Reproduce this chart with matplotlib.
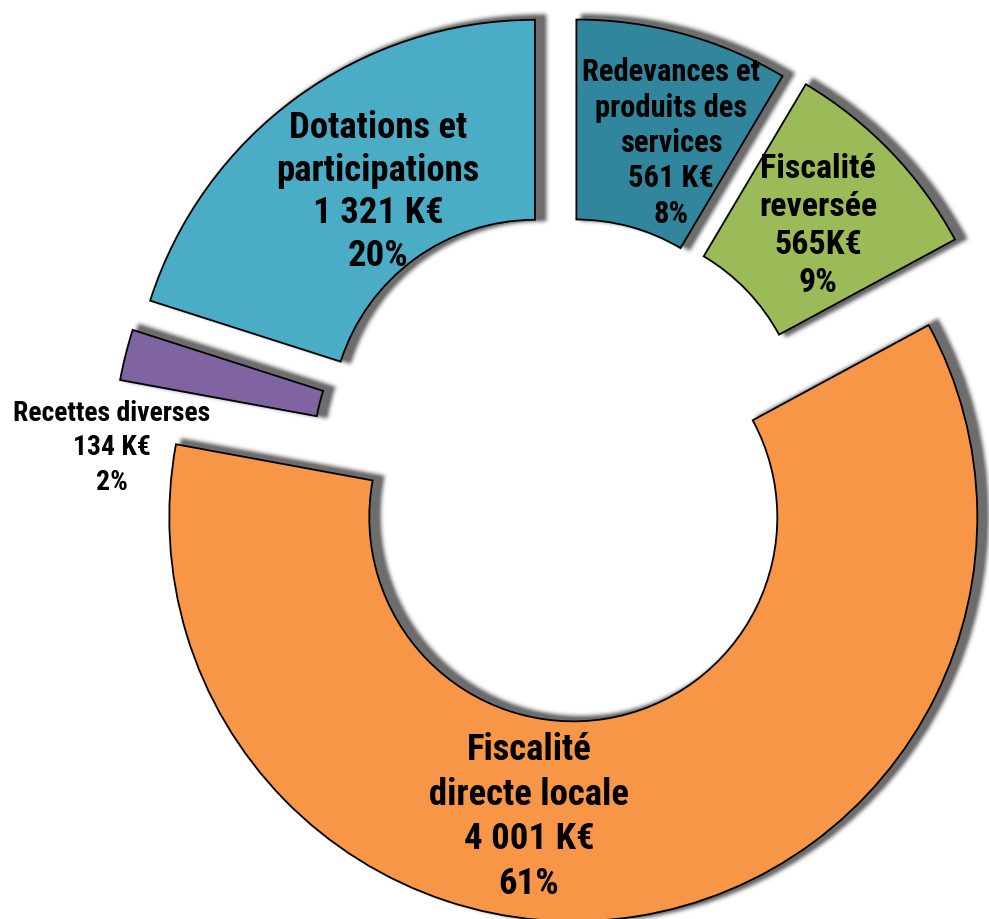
import numpy as np
import matplotlib
matplotlib.use("Agg")
import matplotlib.pyplot as plt
from matplotlib.patches import Wedge
from matplotlib.transforms import ScaledTranslation
from matplotlib import font_manager

# ---- data ----
categories = ["Redevances et\nproduits des\nservices", "Fiscalité\nreversée",
              "Fiscalité\ndirecte locale", "Recettes diverses", "Dotations et\nparticipations"]
values = [561, 565, 4001, 134, 1321]
value_labels = ["561 K€", "565K€", "4 001 K€", "134 K€", "1 321 K€"]
pct_labels = ["8%", "9%", "61%", "2%", "20%"]

# ---- style ----
colors = ["#31859C", "#9BBB59", "#F79646", "#8064A2", "#4BACC6"]
explode = [43, 48, 53, 49, 51]
label_pos = [(671, 777), (818, 694), (529, 103), (112, 472), (378, 728)]
label_size = [22, 24.5, 26.5, 20, 26.5]
label_spacing = [1.22, 1.25, 1.30, 1.34, 1.24]

names = {f.name for f in font_manager.fontManager.ttflist}
narrow = [n for n in ["Liberation Sans Narrow", "Roboto Condensed", "Open Sans Condensed",
                      "DejaVu Sans Condensed"] if n in names]
FONT = narrow + ["DejaVu Sans"]

fig = plt.figure(figsize=(9.89, 9.2), dpi=100)
ax = fig.add_axes([0, 0, 1, 1])

wedges, _ = ax.pie(values, radius=404, center=(565, 454), explode=explode,
                   startangle=90, counterclock=False, colors=colors,
                   wedgeprops=dict(width=200, edgecolor="black", linewidth=1.3))


def _blur(a, sigma):
    r = int(3 * sigma)
    x = np.arange(-r, r + 1)
    w = np.exp(-x ** 2 / (2 * sigma ** 2))
    w /= w.sum()
    out = np.zeros_like(a)
    for i, wi in enumerate(w):
        out += wi * np.roll(a, i - r, axis=0)
    out2 = np.zeros_like(a)
    for i, wi in enumerate(w):
        out2 += wi * np.roll(out, i - r, axis=1)
    return out2


def shadow_filter(im, dpi):
    pad = 14
    a = np.pad(im, ((pad, pad), (pad, pad), (0, 0)))
    alpha = _blur(a[:, :, 3], 2.0)
    out = np.empty_like(a)
    out[:, :, 0] = 0.43
    out[:, :, 1] = 0.43
    out[:, :, 2] = 0.43
    out[:, :, 3] = np.clip(alpha * 1.1, 0, 1)
    return out, -pad, -pad


offset = ScaledTranslation(8 / 100, 2 / 100, fig.dpi_scale_trans)
for w in wedges:
    w.set_zorder(2)
    s = Wedge(w.center, w.r, w.theta1, w.theta2, width=w.width,
              facecolor="#6e6e6e", edgecolor="#6e6e6e", linewidth=5,
              transform=ax.transData + offset, zorder=1)
    s.set_agg_filter(shadow_filter)
    s.set_rasterized(True)
    ax.add_patch(s)

for i, (cat, vl, pct) in enumerate(zip(categories, value_labels, pct_labels)):
    ax.text(label_pos[i][0], label_pos[i][1], f"{cat}\n{vl}\n{pct}",
            ha="center", va="center", fontsize=label_size[i], fontweight="bold",
            family=FONT, fontstretch="condensed", linespacing=label_spacing[i],
            zorder=5, color="black")

ax.set_xlim(0, 989)
ax.set_ylim(0, 920)
ax.set_aspect("equal")
ax.axis("off")

fig.savefig("out.png", dpi=100, facecolor="white")
